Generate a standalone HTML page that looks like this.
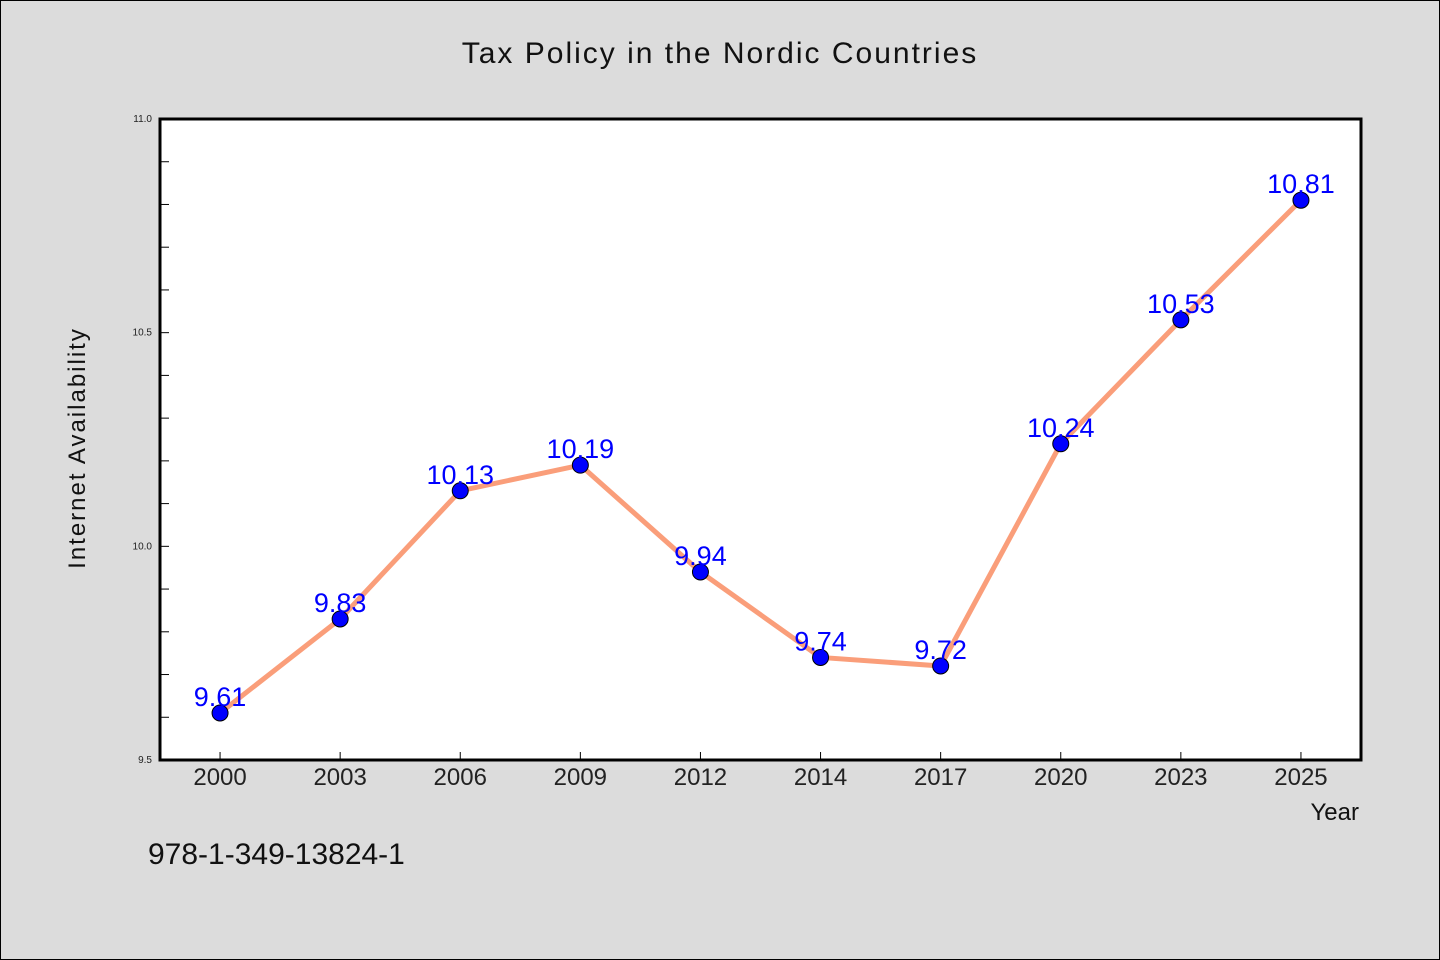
<!DOCTYPE html>
<html><head><meta charset="utf-8"><style>
html,body{margin:0;padding:0;background:#dcdcdc;}
svg{display:block;font-family:"WenQuanYi Zen Hei","Liberation Sans",sans-serif;}
</style></head><body>
<svg id="chart" width="1440" height="960" viewBox="0 0 1440 960" xmlns="http://www.w3.org/2000/svg">
<rect x="0.5" y="0.5" width="1439" height="959" fill="#dcdcdc" stroke="#000" stroke-width="1"/>
<text x="720" y="63" font-size="30" text-anchor="middle" fill="#111" letter-spacing="2">Tax Policy in the Nordic Countries</text>
<rect x="160" y="119" width="1201" height="641" fill="#fff"/>
<g id="ticks"></g>
<g id="series"></g>
<rect x="160" y="119" width="1201" height="641" fill="none" stroke="#000" stroke-width="3"/>
<text transform="translate(85,448) rotate(-90)" font-size="24" text-anchor="middle" fill="#111" letter-spacing="2">Internet Availability</text>
<text x="1359" y="820" font-size="24" text-anchor="end" fill="#111">Year</text>
<text x="148" y="864" font-size="30" fill="#111">978-1-349-13824-1</text>
</svg>
<script>
const categories=["2000","2003","2006","2009","2012","2014","2017","2020","2023","2025"];
const values=[9.61,9.83,10.13,10.19,9.94,9.74,9.72,10.24,10.53,10.81];
const yTickLabels=["9.5","10.0","10.5","11.0"];
const NS="http://www.w3.org/2000/svg";
const L=160,R=1361,T=119,B=760,ymin=9.5,ymax=11.0;
function xPos(i){const bw=(R-L)/categories.length;return L+bw*(i+0.5);}
function yPos(v){return B-(v-ymin)/(ymax-ymin)*(B-T);}
function mk(tag,attrs,parent){const e=document.createElementNS(NS,tag);for(const k in attrs)e.setAttribute(k,attrs[k]);parent.appendChild(e);return e;}
const tg=document.getElementById('ticks');
for(let k=0;k<=15;k++){
  const v=ymin+k*0.1;const y=yPos(v);
  const t=mk('line',{x1:L,x2:L+9,y1:y,y2:y,stroke:'#000','stroke-width':1},tg);
  
  
}
yTickLabels.forEach(s=>{
  const t=mk('text',{x:L-8,y:yPos(parseFloat(s))+3,'font-size':10,'text-anchor':'end',fill:'#222'},tg);
  t.textContent=s;
  
  
});
categories.forEach((c,i)=>{
  const x=xPos(i);
  const t=mk('line',{x1:x,x2:x,y1:B,y2:B-8,stroke:'#000','stroke-width':1},tg);
  
  
  const l=mk('text',{x:x,y:785,'font-size':24,'text-anchor':'middle',fill:'#222'},tg);
  l.textContent=c;
  
  
});
const sg=document.getElementById('series');
const pts=values.map((v,i)=>xPos(i)+','+yPos(v)).join(' ');
const pl=mk('polyline',{points:pts,fill:'none',stroke:'#fa9e7a','stroke-width':5,'stroke-linejoin':'round'},sg);


values.forEach((v,i)=>{
  const c=mk('circle',{cx:xPos(i),cy:yPos(v),r:8,fill:'#0000ff',stroke:'#000','stroke-width':1},sg);
  
  
  const t=mk('text',{x:xPos(i),y:yPos(v)-7,'font-size':27,'text-anchor':'middle',fill:'#0000ff'},sg);
  t.textContent=v.toFixed(2);
  
  
});
</script>
</body></html>
